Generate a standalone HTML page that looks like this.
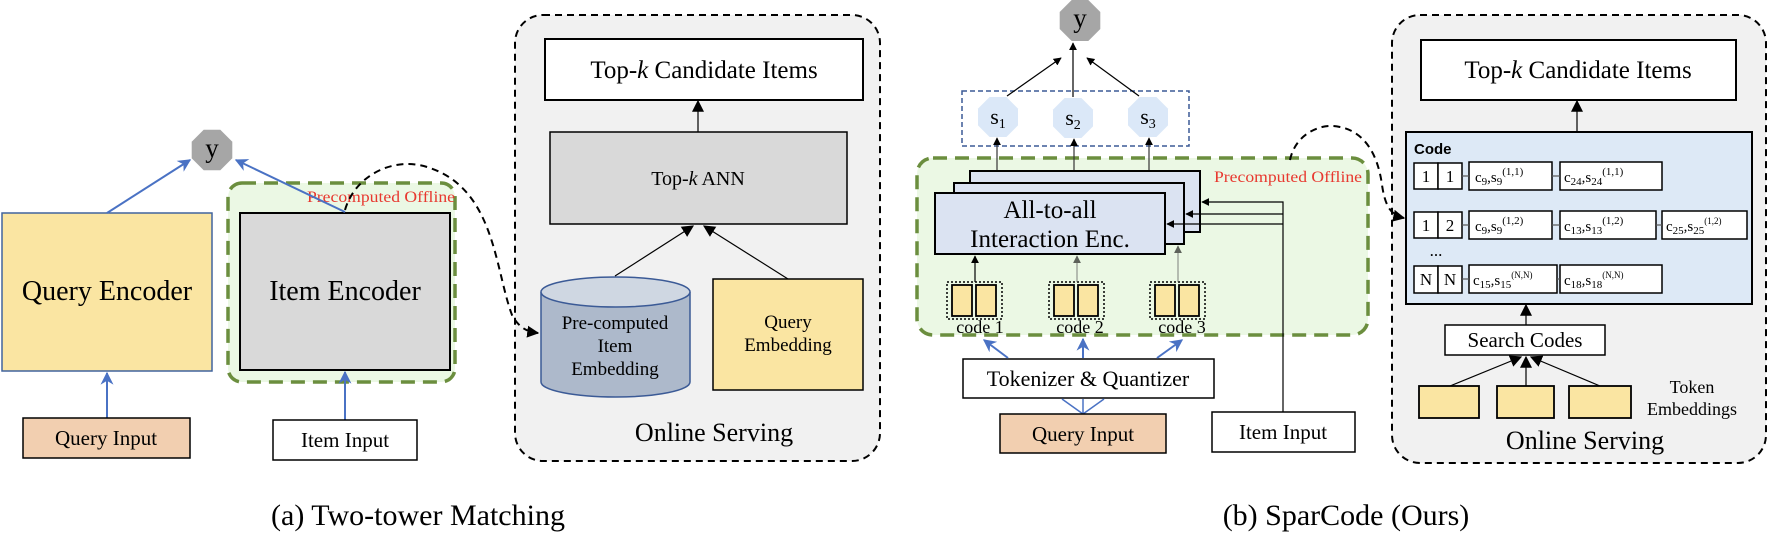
<!DOCTYPE html>
<html><head><meta charset="utf-8"><style>
html,body{margin:0;padding:0;background:#fff;}
svg{display:block;font-family:"Liberation Serif",serif;}
</style></head><body>
<svg width="1773" height="546" viewBox="0 0 1773 546" xmlns="http://www.w3.org/2000/svg">
<defs>
<marker id="ab" viewBox="0 0 10 10" refX="9" refY="5" markerWidth="8" markerHeight="8" orient="auto-start-reverse" markerUnits="userSpaceOnUse"><path d="M0,0L10,5L0,10z" fill="#000"/></marker>
<marker id="ab2" viewBox="0 0 10 10" refX="9" refY="5" markerWidth="12" markerHeight="12" orient="auto" markerUnits="userSpaceOnUse"><path d="M0,0L10,5L0,10z" fill="#000"/></marker>
<marker id="abl" viewBox="0 0 10 10" refX="9" refY="5" markerWidth="13" markerHeight="13" orient="auto" markerUnits="userSpaceOnUse"><path d="M0,0L10,5L0,10L3,5z" fill="#4a72c4"/></marker>
</defs>

<!-- ===== Part (a) ===== -->
<polygon points="220.3,129.7 232.3,141.7 232.3,158.3 220.3,170.3 203.7,170.3 191.7,158.3 191.7,141.7 203.7,129.7" fill="#a6a6a6"/>
<text x="212" y="157" font-size="27" text-anchor="middle">y</text>

<rect x="228" y="183" width="227" height="199" rx="14" fill="#ebf8e4" stroke="#6b8e3e" stroke-width="3.5" stroke-dasharray="14,8"/>
<text x="307" y="202" font-size="16" fill="#e8382f" textLength="148" lengthAdjust="spacingAndGlyphs">Precomputed Offline</text>

<rect x="2" y="213" width="210" height="158" fill="#fae5a2" stroke="#41649e" stroke-width="1.5"/>
<text x="107" y="300" font-size="28" text-anchor="middle">Query Encoder</text>
<rect x="240" y="213" width="210" height="157" fill="#d9d9d9" stroke="#000" stroke-width="2"/>
<text x="345" y="300" font-size="28" text-anchor="middle">Item Encoder</text>

<line x1="107" y1="213" x2="190" y2="160" stroke="#4a72c4" stroke-width="2" marker-end="url(#abl)"/>
<line x1="345" y1="212" x2="236" y2="160" stroke="#4a72c4" stroke-width="2" marker-end="url(#abl)"/>
<line x1="107" y1="418" x2="107" y2="373" stroke="#4a72c4" stroke-width="2" marker-end="url(#abl)"/>
<line x1="345" y1="420" x2="345" y2="372" stroke="#4a72c4" stroke-width="2" marker-end="url(#abl)"/>

<rect x="23" y="418" width="167" height="40" fill="#f2cfb0" stroke="#000" stroke-width="1.5"/>
<text x="106" y="445" font-size="21" text-anchor="middle">Query Input</text>
<rect x="273" y="420" width="144" height="40" fill="#fff" stroke="#000" stroke-width="1.5"/>
<text x="345" y="447" font-size="21" text-anchor="middle">Item Input</text>

<rect x="515" y="15" width="365" height="446" rx="28" fill="#f1f1f1" stroke="#000" stroke-width="2" stroke-dasharray="7,5"/>
<rect x="545" y="39" width="318" height="61" fill="#fff" stroke="#000" stroke-width="2"/>
<text x="704" y="78" font-size="25" text-anchor="middle">Top-<tspan font-style="italic">k</tspan> Candidate Items</text>
<rect x="550" y="132" width="297" height="92" fill="#d9d9d9" stroke="#000" stroke-width="1.5"/>
<text x="698" y="185" font-size="20" text-anchor="middle">Top-<tspan font-style="italic">k</tspan> ANN</text>
<line x1="698" y1="132" x2="698" y2="101" stroke="#000" stroke-width="1.2" marker-end="url(#ab2)"/>

<path d="M541,292 L541,382 A74.5,15 0 0 0 690,382 L690,292" fill="#adb9cb" stroke="#3b5a96" stroke-width="1.5"/>
<ellipse cx="615.5" cy="292" rx="74.5" ry="15" fill="#cfd7e2" stroke="#3b5a96" stroke-width="1.5"/>
<text x="615" y="329" font-size="19" text-anchor="middle">Pre-computed</text>
<text x="615" y="352" font-size="19" text-anchor="middle">Item</text>
<text x="615" y="375" font-size="19" text-anchor="middle">Embedding</text>

<rect x="713" y="279" width="150" height="111" fill="#fae5a2" stroke="#000" stroke-width="1.5"/>
<text x="788" y="328" font-size="19" text-anchor="middle">Query</text>
<text x="788" y="351" font-size="19" text-anchor="middle">Embedding</text>

<line x1="615" y1="276" x2="693" y2="226" stroke="#000" stroke-width="1.2" marker-end="url(#ab2)"/>
<line x1="788" y1="279" x2="704" y2="226" stroke="#000" stroke-width="1.2" marker-end="url(#ab2)"/>

<text x="714" y="441" font-size="26" text-anchor="middle">Online Serving</text>

<path d="M345,210 C355,175 395,155 430,168 C495,190 495,270 512,315 C520,330 530,332 538,333" fill="none" stroke="#000" stroke-width="2" stroke-dasharray="7,5" marker-end="url(#ab2)"/>

<text x="418" y="525" font-size="30" text-anchor="middle">(a) Two-tower Matching</text>

<!-- ===== Part (b) ===== -->
<polygon points="1088.3,0 1100.3,12 1100.3,29 1088.3,41 1071.7,41 1059.7,29 1059.7,12 1071.7,0" fill="#a6a6a6"/>
<text x="1080" y="27" font-size="27" text-anchor="middle">y</text>

<rect x="962" y="91" width="227" height="55" fill="none" stroke="#3b5a96" stroke-width="1.5" stroke-dasharray="5,3"/>
<g fill="#dbe8f8">
<polygon points="1006.4,97 1018,108.6 1018,125.4 1006.4,137 989.6,137 978,125.4 978,108.6 989.6,97"/>
<polygon points="1081.4,98 1093,109.6 1093,126.4 1081.4,138 1064.6,138 1053,126.4 1053,109.6 1064.6,98"/>
<polygon points="1156.4,97 1168,108.6 1168,125.4 1156.4,137 1139.6,137 1128,125.4 1128,108.6 1139.6,97"/>
</g>
<text x="998" y="124" font-size="22" text-anchor="middle">s<tspan font-size="14" dy="4">1</tspan></text>
<text x="1073" y="125" font-size="22" text-anchor="middle">s<tspan font-size="14" dy="4">2</tspan></text>
<text x="1148" y="124" font-size="22" text-anchor="middle">s<tspan font-size="14" dy="4">3</tspan></text>
<line x1="1007" y1="96" x2="1061" y2="58" stroke="#000" stroke-width="1.2" marker-end="url(#ab)"/>
<line x1="1073" y1="97" x2="1073" y2="43" stroke="#000" stroke-width="1.2" marker-end="url(#ab)"/>
<line x1="1139" y1="96" x2="1087" y2="58" stroke="#000" stroke-width="1.2" marker-end="url(#ab)"/>

<rect x="917" y="158" width="451" height="177" rx="16" fill="#ebf8e4" stroke="#6b8e3e" stroke-width="3.5" stroke-dasharray="14,8"/>
<text x="1362" y="182" font-size="16" fill="#e8382f" text-anchor="end" textLength="148" lengthAdjust="spacingAndGlyphs">Precomputed Offline</text>

<line x1="997" y1="171" x2="997" y2="138" stroke="#333" stroke-width="1.2" marker-end="url(#ab)"/>
<line x1="1074" y1="171" x2="1074" y2="139" stroke="#333" stroke-width="1.2" marker-end="url(#ab)"/>
<line x1="1149" y1="171" x2="1149" y2="138" stroke="#333" stroke-width="1.2" marker-end="url(#ab)"/>

<rect x="970" y="171" width="230" height="61" fill="#dbe3f2" stroke="#000" stroke-width="2"/>
<rect x="954" y="183" width="230" height="61" fill="#dbe3f2" stroke="#000" stroke-width="2"/>
<rect x="935" y="193" width="230" height="61" fill="#dbe3f2" stroke="#000" stroke-width="2"/>
<text x="1050" y="218" font-size="25" text-anchor="middle">All-to-all</text>
<text x="1050" y="247" font-size="25" text-anchor="middle">Interaction Enc.</text>

<polyline points="1283,412 1283,202 1202,202" fill="none" stroke="#000" stroke-width="1.2" marker-end="url(#ab)"/>
<line x1="1283" y1="214" x2="1186" y2="214" stroke="#000" stroke-width="1.2" marker-end="url(#ab)"/>
<line x1="1283" y1="224" x2="1167" y2="224" stroke="#000" stroke-width="1.2" marker-end="url(#ab)"/>

<g stroke="#000">
<rect x="947" y="282" width="55" height="37" fill="none" stroke-width="1.5" stroke-dasharray="2,2"/>
<rect x="952" y="285" width="20" height="31" fill="#fae5a2" stroke-width="1.8"/>
<rect x="976" y="285" width="20" height="31" fill="#fae5a2" stroke-width="1.8"/>
<rect x="1049" y="282" width="55" height="37" fill="none" stroke-width="1.5" stroke-dasharray="2,2"/>
<rect x="1054" y="285" width="20" height="31" fill="#fae5a2" stroke-width="1.8"/>
<rect x="1078" y="285" width="20" height="31" fill="#fae5a2" stroke-width="1.8"/>
<rect x="1150" y="282" width="55" height="37" fill="none" stroke-width="1.5" stroke-dasharray="2,2"/>
<rect x="1155" y="285" width="20" height="31" fill="#fae5a2" stroke-width="1.8"/>
<rect x="1179" y="285" width="20" height="31" fill="#fae5a2" stroke-width="1.8"/>
</g>
<text x="980" y="333" font-size="18" text-anchor="middle">code 1</text>
<text x="1080" y="333" font-size="18" text-anchor="middle">code 2</text>
<text x="1182" y="333" font-size="18" text-anchor="middle">code 3</text>
<line x1="975" y1="282" x2="975" y2="256" stroke="#000" stroke-width="1.2" marker-end="url(#ab)"/>
<line x1="1077" y1="282" x2="1077" y2="256" stroke="#555" stroke-width="1.2" marker-end="url(#ab)" opacity="0.6"/>
<line x1="1178" y1="282" x2="1178" y2="246" stroke="#555" stroke-width="1.2" marker-end="url(#ab)" opacity="0.6"/>

<rect x="963" y="359" width="251" height="39" fill="#fff" stroke="#000" stroke-width="1.5"/>
<text x="1088" y="386" font-size="22" text-anchor="middle">Tokenizer &amp; Quantizer</text>
<line x1="1008" y1="358" x2="984" y2="340" stroke="#4a72c4" stroke-width="2" marker-end="url(#abl)"/>
<line x1="1083" y1="358" x2="1083" y2="339" stroke="#4a72c4" stroke-width="2" marker-end="url(#abl)"/>
<line x1="1157" y1="358" x2="1182" y2="340" stroke="#4a72c4" stroke-width="2" marker-end="url(#abl)"/>
<line x1="1083" y1="414" x2="1062" y2="399" stroke="#4a72c4" stroke-width="1.5"/>
<line x1="1083" y1="414" x2="1083" y2="399" stroke="#4a72c4" stroke-width="1.5"/>
<line x1="1083" y1="414" x2="1104" y2="399" stroke="#4a72c4" stroke-width="1.5"/>

<rect x="1000" y="414" width="166" height="39" fill="#f2cfb0" stroke="#000" stroke-width="1.5"/>
<text x="1083" y="441" font-size="21" text-anchor="middle">Query Input</text>
<rect x="1212" y="412" width="143" height="40" fill="#fff" stroke="#000" stroke-width="1.5"/>
<text x="1283" y="439" font-size="21" text-anchor="middle">Item Input</text>

<rect x="1392" y="15" width="374" height="448" rx="28" fill="#f1f1f1" stroke="#000" stroke-width="2" stroke-dasharray="7,5"/>
<rect x="1421" y="40" width="315" height="60" fill="#fff" stroke="#000" stroke-width="2"/>
<text x="1578" y="78" font-size="25" text-anchor="middle">Top-<tspan font-style="italic">k</tspan> Candidate Items</text>
<line x1="1577" y1="132" x2="1577" y2="101" stroke="#000" stroke-width="1.2" marker-end="url(#ab2)"/>

<rect x="1406" y="132" width="346" height="172" fill="#dde9f6" stroke="#000" stroke-width="2"/>
<text x="1414" y="154" font-size="15" font-weight="bold" font-family="Liberation Sans, sans-serif">Code</text>
<g stroke="#000" stroke-width="1.5" fill="#fff">
<rect x="1414" y="163" width="24" height="26"/><rect x="1438" y="163" width="24" height="26"/>
<rect x="1414" y="212" width="24" height="26"/><rect x="1438" y="212" width="24" height="26"/>
<rect x="1414" y="266" width="24" height="27"/><rect x="1438" y="266" width="24" height="27"/>
<rect x="1469" y="162" width="83" height="28"/>
<rect x="1560" y="162" width="102" height="28"/>
<rect x="1469" y="211" width="83" height="28"/>
<rect x="1560" y="211" width="96" height="28"/>
<rect x="1662" y="211" width="85" height="28"/>
<rect x="1469" y="265" width="88" height="28"/>
<rect x="1560" y="265" width="102" height="28"/>
</g>
<g stroke="#555" stroke-width="1.2">
<line x1="1462" y1="176" x2="1469" y2="176"/><line x1="1552" y1="176" x2="1560" y2="176"/>
<line x1="1462" y1="225" x2="1469" y2="225"/><line x1="1552" y1="225" x2="1560" y2="225"/><line x1="1656" y1="225" x2="1662" y2="225"/>
<line x1="1462" y1="279" x2="1469" y2="279"/><line x1="1557" y1="279" x2="1560" y2="279"/>
</g>
<g font-size="17" text-anchor="middle">
<text x="1426" y="182">1</text><text x="1450" y="182">1</text>
<text x="1426" y="231">1</text><text x="1450" y="231">2</text>
<text x="1426" y="285">N</text><text x="1450" y="285">N</text>
</g>
<text x="1436" y="256" font-size="17" text-anchor="middle">...</text>
<g font-size="15">
<text x="1475" y="182">c<tspan font-size="11" dy="3">9</tspan><tspan dy="-3">,s</tspan><tspan font-size="11" dy="3">9</tspan><tspan font-size="11" dy="-10">(1,1)</tspan></text>
<text x="1564" y="182">c<tspan font-size="11" dy="3">24</tspan><tspan dy="-3">,s</tspan><tspan font-size="11" dy="3">24</tspan><tspan font-size="11" dy="-10">(1,1)</tspan></text>
<text x="1475" y="231">c<tspan font-size="11" dy="3">9</tspan><tspan dy="-3">,s</tspan><tspan font-size="11" dy="3">9</tspan><tspan font-size="11" dy="-10">(1,2)</tspan></text>
<text x="1564" y="231">c<tspan font-size="11" dy="3">13</tspan><tspan dy="-3">,s</tspan><tspan font-size="11" dy="3">13</tspan><tspan font-size="11" dy="-10">(1,2)</tspan></text>
<text x="1666" y="231">c<tspan font-size="11" dy="3">25</tspan><tspan dy="-3">,s</tspan><tspan font-size="11" dy="3">25</tspan><tspan font-size="9" dy="-10">(1,2)</tspan></text>
<text x="1473" y="285">c<tspan font-size="11" dy="3">15</tspan><tspan dy="-3">,s</tspan><tspan font-size="11" dy="3">15</tspan><tspan font-size="9" dy="-10">(N,N)</tspan></text>
<text x="1564" y="285">c<tspan font-size="11" dy="3">18</tspan><tspan dy="-3">,s</tspan><tspan font-size="11" dy="3">18</tspan><tspan font-size="9" dy="-10">(N,N)</tspan></text>
</g>

<line x1="1526" y1="325" x2="1526" y2="305" stroke="#000" stroke-width="1.2" marker-end="url(#ab2)"/>
<rect x="1445" y="325" width="160" height="30" fill="#fff" stroke="#000" stroke-width="1.5"/>
<text x="1525" y="347" font-size="21" text-anchor="middle">Search Codes</text>
<line x1="1450" y1="386" x2="1521" y2="357" stroke="#000" stroke-width="1.2" marker-end="url(#ab2)"/>
<line x1="1526" y1="386" x2="1526" y2="357" stroke="#000" stroke-width="1.2" marker-end="url(#ab2)"/>
<line x1="1600" y1="386" x2="1531" y2="357" stroke="#000" stroke-width="1.2" marker-end="url(#ab2)"/>
<g fill="#fae5a2" stroke="#000" stroke-width="1.8">
<rect x="1419" y="386" width="60" height="32"/>
<rect x="1497" y="386" width="57" height="32"/>
<rect x="1569" y="386" width="62" height="32"/>
</g>
<text x="1692" y="393" font-size="18" text-anchor="middle">Token</text>
<text x="1692" y="415" font-size="18" text-anchor="middle">Embeddings</text>
<text x="1585" y="449" font-size="26" text-anchor="middle">Online Serving</text>

<path d="M1290,160 C1295,135 1320,122 1340,127 C1365,132 1378,155 1382,185 C1385,205 1390,215 1404,218" fill="none" stroke="#000" stroke-width="2" stroke-dasharray="7,5" marker-end="url(#ab2)"/>

<text x="1346" y="525" font-size="30" text-anchor="middle">(b) SparCode (Ours)</text>
</svg>
</body></html>
